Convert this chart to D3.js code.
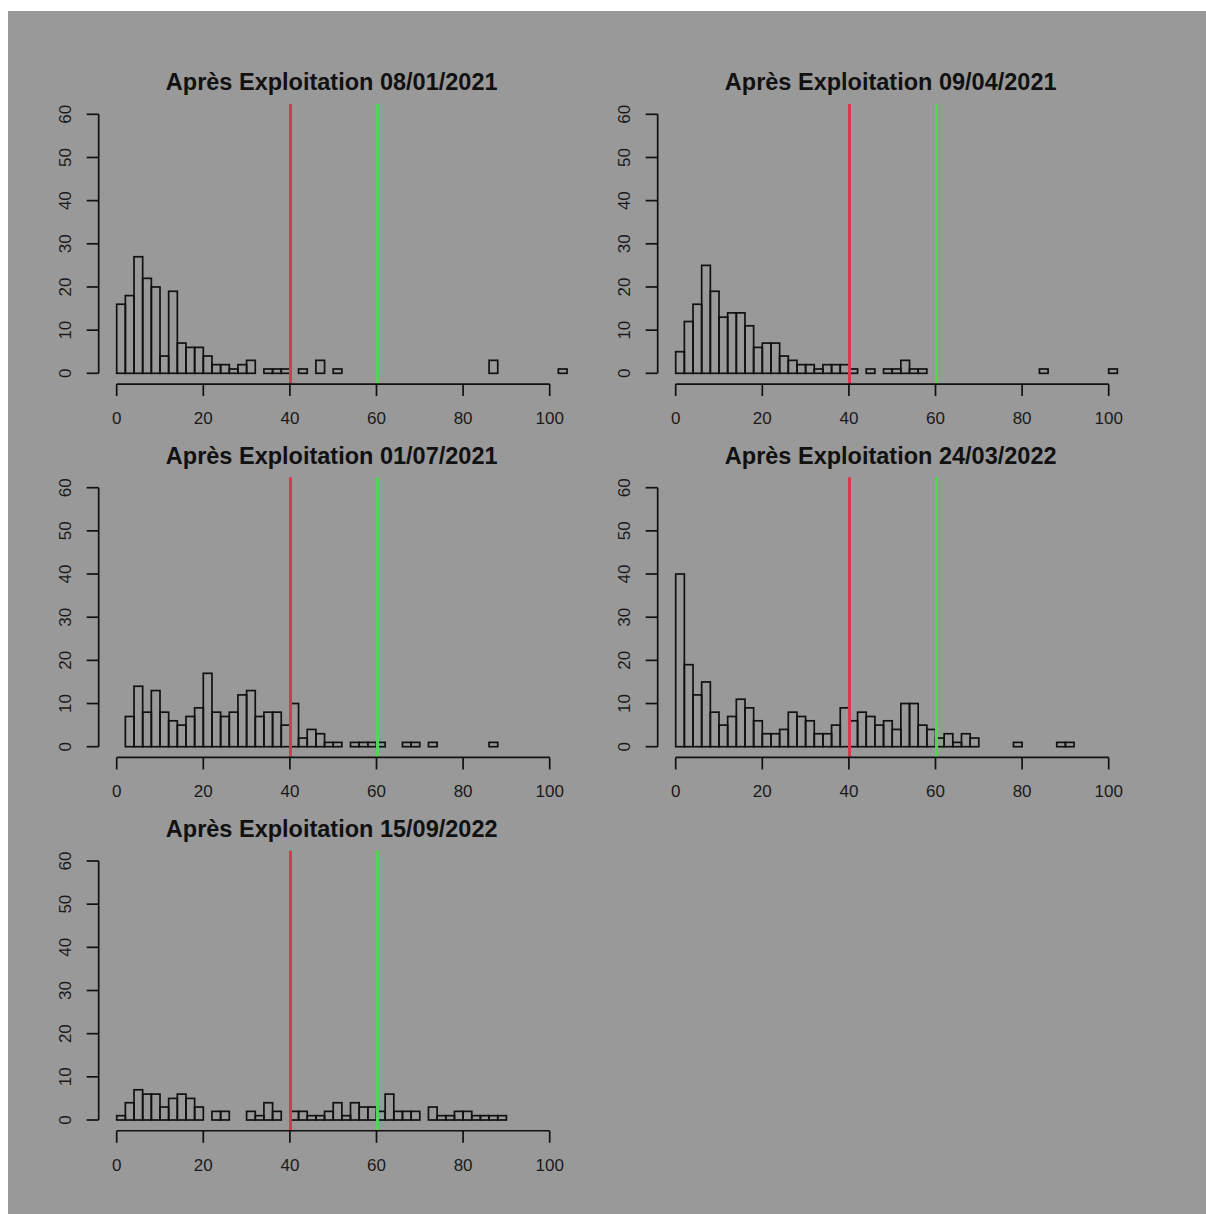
<!DOCTYPE html>
<html>
<head>
<meta charset="utf-8">
<script src="https://cdn.jsdelivr.net/npm/d3@7"></script>
<style>
	html, body { margin: 0; padding: 0; background: #fff; }
	svg { display: block; }
</style>
</head>
<body>
<svg id="chart" width="1206" height="1214"></svg>
<script>
// bin width is 2, each series lists counts from its first bin edge up to 104
const binWidth = 2;
const titles = [
	"Après Exploitation 08/01/2021",
	"Après Exploitation 09/04/2021",
	"Après Exploitation 01/07/2021",
	"Après Exploitation 24/03/2022",
	"Après Exploitation 15/09/2022"
];
const binStarts = [0, 0, 2, 0, 0];

const counts0801 = [16, 18, 27, 22, 20, 4, 19, 7, 6, 6, 4, 2, 2, 1, 2, 3, 0, 1, 1, 1, 0, 1, 0, 3, 0, 1,
	0, 0, 0, 0, 0, 0, 0, 0, 0, 0, 0, 0, 0, 0, 0, 0, 0, 3, 0, 0, 0, 0, 0, 0, 0, 1];
const counts0904 = [5, 12, 16, 25, 19, 13, 14, 14, 11, 6, 7, 7, 4, 3, 2, 2, 1, 2, 2, 2, 1, 0, 1, 0, 1, 1,
	3, 1, 1, 0, 0, 0, 0, 0, 0, 0, 0, 0, 0, 0, 0, 0, 1, 0, 0, 0, 0, 0, 0, 0, 1, 0];
const counts0107 = [7, 14, 8, 13, 8, 6, 5, 7, 9, 17, 8, 7, 8, 12, 13, 7, 8, 8, 5, 10, 2, 4, 3, 1, 1, 0,
	1, 1, 1, 1, 0, 0, 1, 1, 0, 1, 0, 0, 0, 0, 0, 0, 1, 0, 0, 0, 0, 0, 0, 0, 0];
const counts2403 = [40, 19, 12, 15, 8, 5, 7, 11, 9, 6, 3, 3, 4, 8, 7, 6, 3, 3, 5, 9, 6, 8, 7, 5, 6, 4,
	10, 10, 5, 4, 2, 3, 1, 3, 2, 0, 0, 0, 0, 1, 0, 0, 0, 0, 1, 1, 0, 0, 0, 0, 0, 0];
const counts1509 = [1, 4, 7, 6, 6, 3, 5, 6, 5, 3, 0, 2, 2, 0, 0, 2, 1, 4, 2, 0, 2, 2, 1, 1, 2, 4,
	1, 4, 3, 3, 2, 6, 2, 2, 2, 0, 3, 1, 1, 2, 2, 1, 1, 1, 1, 0, 0, 0, 0, 0, 0, 0];
const allCounts = [counts0801, counts0904, counts0107, counts2403, counts1509];

const xTicks = [0, 20, 40, 60, 80, 100];
const yTicks = [0, 10, 20, 30, 40, 50, 60];
const refLines = [{ value: 40, color: "#d63a4c" }, { value: 60, color: "#52d64f" }];

const svg = d3.select("#chart");
const font = "'Liberation Sans', Arial, sans-serif";

// gray device background, slightly offset from the window edge
svg.append("rect")
	.attr("x", 8).attr("y", 11)
	.attr("width", 1206 - 8).attr("height", 1214 - 11)
	.attr("fill", "#999999");

// zero of x axis per column, zero of y axis per row
const colX = [116.7, 675.7];
const rowY = [373.3, 746.7, 1120];

function drawPanel(i) {
	const x0 = colX[i % 2];
	const y0 = rowY[Math.floor(i / 2)];
	const x = d3.scaleLinear().domain([0, 100]).range([x0, x0 + 433]);
	const y = d3.scaleLinear().domain([0, 60]).range([y0, y0 - 259]);
	const g = svg.append("g");

	const bins = allCounts[i].map((c, k) => ({ lo: binStarts[i] + k * binWidth, count: c }));

	g.selectAll("rect.bar").data(bins).enter()
		.append("rect")
		.attr("class", "bar")
		.attr("x", d => x(d.lo))
		.attr("y", d => y(d.count))
		.attr("width", d => x(d.lo + binWidth) - x(d.lo))
		.attr("height", d => y(0) - y(d.count))
		.attr("fill", "none")
		.attr("stroke", "#111")
		.attr("stroke-width", 1.7);

	// threshold lines span the full plot region, snapped so they stay crisp
	const plotTop = y(62.4);
	const axisY = y(-2.4) + 0.4;
	const snap = v => Math.round(x(v)) + 0.5;
	g.selectAll("line.ref").data(refLines).enter()
		.append("line")
		.attr("class", "ref")
		.attr("x1", d => snap(d.value)).attr("x2", d => snap(d.value))
		.attr("y1", plotTop).attr("y2", axisY)
		.attr("stroke", d => d.color)
		.attr("stroke-width", 3);

	// x axis, R style: line from first to last tick, ticks pointing down
	const xAxis = g.append("g").attr("transform", `translate(0,${axisY})`);
	xAxis.append("line")
		.attr("x1", x(0)).attr("x2", x(100))
		.attr("stroke", "#111").attr("stroke-width", 1.7);
	xAxis.selectAll("line.tick").data(xTicks).enter()
		.append("line").attr("class", "tick")
		.attr("x1", d => x(d)).attr("x2", d => x(d))
		.attr("y1", 0).attr("y2", 12)
		.attr("stroke", "#111").attr("stroke-width", 1.7);
	xAxis.selectAll("text").data(xTicks).enter()
		.append("text")
		.attr("x", d => x(d)).attr("y", 40)
		.attr("text-anchor", "middle")
		.attr("font-family", font).attr("font-size", 17)
		.attr("fill", "#1a1a1a")
		.text(d => d);

	// y axis at the left edge of plot region, labels turned
	const axisX = x(-4.16);
	const yAxis = g.append("g").attr("transform", `translate(${axisX},0)`);
	yAxis.append("line")
		.attr("y1", y(0)).attr("y2", y(60))
		.attr("stroke", "#111").attr("stroke-width", 1.7);
	yAxis.selectAll("line.tick").data(yTicks).enter()
		.append("line").attr("class", "tick")
		.attr("x1", 0).attr("x2", -12)
		.attr("y1", d => y(d)).attr("y2", d => y(d))
		.attr("stroke", "#111").attr("stroke-width", 1.7);
	yAxis.selectAll("text").data(yTicks).enter()
		.append("text")
		.attr("transform", d => `translate(-28,${y(d)}) rotate(-90)`)
		.attr("text-anchor", "middle")
		.attr("font-family", font).attr("font-size", 17)
		.attr("fill", "#1a1a1a")
		.text(d => d);

	g.append("text")
		.attr("x", x0 + 215).attr("y", y0 - 283)
		.attr("text-anchor", "middle")
		.attr("font-family", font).attr("font-size", 23.5)
		.attr("font-weight", "bold")
		.attr("fill", "#111")
		.text(titles[i]);
}

titles.forEach((t, i) => drawPanel(i));
</script>
</body>
</html>
